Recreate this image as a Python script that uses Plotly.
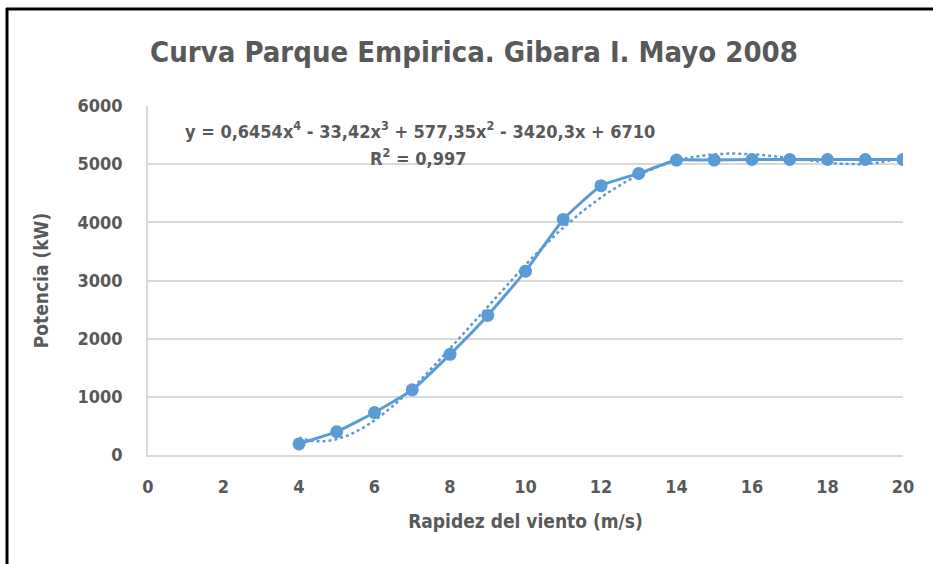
import numpy as np
import plotly.graph_objects as go

wind_speed = [4, 5, 6, 7, 8, 9, 10, 11, 12, 13, 14, 15, 16, 17, 18, 19, 20]
power_kw = [190, 400, 730, 1120, 1730, 2400, 3160, 4050, 4630, 4840, 5070, 5070, 5080, 5080, 5080, 5080, 5080]
x_ticks = list(range(0, 21, 2))
y_ticks = list(range(0, 6001, 1000))

title_text = "Curva Parque Empirica. Gibara I. Mayo 2008"
x_title = "Rapidez del viento (m/s)"
y_title = "Potencia (kW)"
eq_text = "y = 0,6454x<sup>4</sup> - 33,42x<sup>3</sup> + 577,35x<sup>2</sup> - 3420,3x + 6710"
r2_text = "R<sup>2</sup> = 0,997"

# polynomial trendline (order 4) fitted to the data
coef = np.polyfit(wind_speed, power_kw, 4)
xt = np.linspace(min(wind_speed), max(wind_speed), 200)
yt = np.polyval(coef, xt)

BLUE = "#5B9BD5"
GRAY = "#595959"
FONT = "Liberation Sans Narrow, DejaVu Sans Condensed, Arial Narrow, sans-serif"

W, H = 933, 564
L, R, T, B = 148, 30, 106, 109
pw, ph = W - L - R, H - T - B

def px(x):
    return (x - L) / pw

def py(y):
    return (H - B - y) / ph

fig = go.Figure()
fig.add_trace(go.Scatter(x=xt, y=yt, mode="lines",
                         line=dict(color=BLUE, width=2.5, dash="dot"),
                         hoverinfo="skip", showlegend=False))
fig.add_trace(go.Scatter(x=wind_speed, y=power_kw, mode="lines+markers",
                         line=dict(color=BLUE, width=3, shape="spline", smoothing=0.4),
                         marker=dict(color=BLUE, size=13),
                         showlegend=False))

bold = dict(family=FONT, color=GRAY, weight="bold")

fig.update_layout(
    width=W, height=H,
    margin=dict(l=L, r=R, t=T, b=B),
    paper_bgcolor="white", plot_bgcolor="white",
    font=dict(family=FONT, color=GRAY),
    title=dict(text=title_text, x=(145 + 803) / 2 / W, xanchor="center",
               y=1 - 52 / H, yanchor="middle",
               font=dict(size=29, **bold)),
    xaxis=dict(range=[0, 20], tickvals=x_ticks,
               showgrid=False, zeroline=False, showline=True, linecolor="#D9D9D9", linewidth=1.5,
               ticks="", tickfont=dict(size=18, **bold), ticklabelstandoff=15,
               title=dict(text=x_title, font=dict(size=19, **bold), standoff=18)),
    yaxis=dict(range=[0, 6000], tickvals=y_ticks,
               showgrid=True, gridcolor="#D9D9D9", gridwidth=1.5, zeroline=False,
               showline=True, linecolor="#D9D9D9", linewidth=1.5,
               ticks="", tickfont=dict(size=18, **bold), ticklabelstandoff=20,
               title=dict(text=y_title, font=dict(size=19, **bold), standoff=24)),
    annotations=[
        dict(text=eq_text, xref="paper", yref="paper",
             x=px(420), y=py(130), xanchor="center", yanchor="middle", showarrow=False,
             font=dict(size=18, **bold)),
        dict(text=r2_text, xref="paper", yref="paper",
             x=px(418), y=py(157), xanchor="center", yanchor="middle", showarrow=False,
             font=dict(size=18, **bold)),
    ],
    shapes=[
        dict(type="line", xref="paper", yref="paper", x0=px(6), x1=px(933), y0=py(9), y1=py(9),
             line=dict(color="black", width=3)),
        dict(type="line", xref="paper", yref="paper", x0=px(7), x1=px(7), y0=py(8), y1=py(564),
             line=dict(color="black", width=3)),
    ],
)

fig.write_html("out.html", config={"displayModeBar": False},
               post_script="document.body.style.margin='0';document.body.style.padding='0';")
